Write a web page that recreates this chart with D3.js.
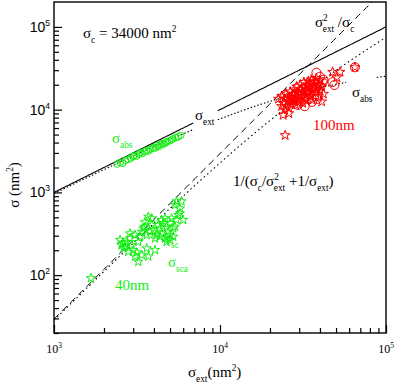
<!DOCTYPE html>
<html><head><meta charset="utf-8">
<script src="https://cdn.jsdelivr.net/npm/d3@7"></script>
<style>body{margin:0;background:#fff}svg{display:block}</style>
</head><body>
<svg id="c" width="395" height="385"></svg>
<script>
const sigmaC = 34000;
const xDomain = [1e3, 1e5];
const yDomain = [20, 2e5];
const xMajor = [1e3, 1e4, 1e5];
const xMajorExp = ["3", "4", "5"];
const yMajor = [1e2, 1e3, 1e4, 1e5];
const yMajorExp = ["2", "3", "4", "5"];

// 40 nm: absorption (circles)
const extG40abs = [2400,2500,2600,2700,2800,2900,3000,3050,3150,3250,3300,3400,3500,3600,3700,3800,3900,4000,4100,4200,4300,4400,4500,4600,4700,4800,4950,5100,5200,5400,5600,5800];
const absG40 = [2200,2300,2250,2450,2500,2600,2700,2800,2750,2900,3000,2950,3100,3200,3150,3300,3400,3500,3450,3700,3600,3800,3900,3850,4000,4100,4200,4300,4450,4600,4700,4900];
// 40 nm: scattering (stars)
const extG40sca = [1670,2500,2550,2620,2740,2870,2940,3010,3080,3150,3220,3300,3380,3460,3530,3620,3700,3790,3880,3970,4060,4150,4250,4350,4450,4550,4660,4770,4880,5000,5110,5230,5350,5480,5610,5740,5480,5350,5870,5740,6000,5230,5000,4660,4350,4450,3220,3380,3700,4060,3620,3880,3530,3080,2870,2680,2800,2600,5000,4770];
const scaG40 = [92,266,231,211,252,278,231,201,168,188,252,292,335,368,385,306,508,335,403,351,278,306,403,368,464,427,486,385,335,427,486,368,385,464,533,640,780,705,780,560,464,292,266,278,292,320,145,175,168,201,211,486,436,306,320,221,192,248,306,252];
// 100 nm: scattering (stars)
const extR100sca = [23500,23500,24000,24500,24500,25000,25000,25500,26000,26000,26500,26500,27000,27000,27500,28000,28000,28500,28500,29000,29000,29500,30000,30000,30500,30500,31000,31500,31500,32000,32000,32500,33000,33000,33500,34000,34000,34500,35000,35000,35500,36000,36000,36500,37000,37500,38000,38000,39000,39000,40000,40000,41000,42000,41000,26000,24000,24700,47700,52900,50500,22500,65000];
const scaR100 = [11000,14500,12000,10000,13500,15500,11000,12500,14000,10500,16500,12500,13500,11500,15500,17500,13000,14500,11500,16000,19000,13500,15500,12500,17500,20000,14500,16500,12000,18500,21500,15000,17000,13000,19500,22000,16000,18000,14500,20500,23000,17500,13000,19500,21500,16000,24000,18500,20000,14500,22500,17000,19000,15500,12500,9000,8600,4900,28500,28500,24500,13500,32500];
// 100 nm: absorption (circles)
const extR100abs = [27500,29500,32400,35800,38500,24700,26000,28000,30000,31000,32000,33000,34000,35000,36000,37000,38000,39000,40000,38100,40000,41500,47600,48900,42000,36500,29000,31000,34000,37000,65000];
const absR100 = [12400,11400,11000,12400,13500,15000,14000,15000,15500,16500,14500,16500,17500,16000,18000,17000,19000,21000,19500,28000,25000,21500,21500,19850,23000,22000,13000,12500,13500,14500,32500];

// theoretical curve segments (sigma_ext ranges drawn)
const absSegments = [[1e3, 6840], [9700, 57500], [88000, 1e5]];
const extSegments = [[1e3, 6900], [9700, 1e5]];

const svg = d3.select("#c");
const L = 54, R = 386, T = 2, B = 333;
const x = d3.scaleLog().domain(xDomain).range([L, R]);
const y = d3.scaleLog().domain(yDomain).range([B, T]);
const green = "#11ee11", red = "#ff0000";
const serif = "'Liberation Serif', 'DejaVu Serif', serif";
const sans = "'Liberation Sans', Arial, sans-serif";

svg.append("clipPath").attr("id","clip").append("rect").attr("x",L).attr("y",T).attr("width",R-L).attr("height",B-T);
const plot = svg.append("g").attr("clip-path","url(#clip)");

function samples(a, b, n=120){ const la=Math.log10(a), lb=Math.log10(b); return d3.range(n+1).map(i=>Math.pow(10, la+(lb-la)*i/n)); }
const fExt = s => s;
const fAbs = s => s*sigmaC/(sigmaC+s);
const fSca = s => s*s/(sigmaC+s);
const fRay = s => s*s/sigmaC;
const line = f => d3.line().x(d=>x(d)).y(d=>y(f(d)));

extSegments.forEach(([a,b]) => plot.append("path").attr("d", line(fExt)(samples(a,b))).attr("fill","none").attr("stroke","#000").attr("stroke-width",1.1));
absSegments.forEach(([a,b]) => plot.append("path").attr("d", line(fAbs)(samples(a,b))).attr("fill","none").attr("stroke","#000").attr("stroke-width",1.1).attr("stroke-dasharray","1.5,2"));
plot.append("path").attr("d", line(fRay)(samples(1e3,1e5))).attr("fill","none").attr("stroke","#000").attr("stroke-width",1).attr("stroke-dasharray","7,4.5");
plot.append("path").attr("d", line(fSca)(samples(1e3,1e5))).attr("fill","none").attr("stroke","#000").attr("stroke-width",1.1).attr("stroke-dasharray","1.5,3");

const star = d3.symbol().type(d3.symbolStar).size(26)();
const starBig = d3.symbol().type(d3.symbolStar).size(30)();
function stars(xs, ys, color, path){
  plot.append("g").selectAll("path").data(xs.map((v,i)=>[v, ys[i]])).join("path")
    .attr("d", path).attr("transform", d=>`translate(${x(d[0])},${y(d[1])})`)
    .attr("fill","none").attr("stroke",color).attr("stroke-width",1);
}
function circles(xs, ys, color, r){
  plot.append("g").selectAll("circle").data(xs.map((v,i)=>[v, ys[i]])).join("circle")
    .attr("cx", d=>x(d[0])).attr("cy", d=>y(d[1])).attr("r", r)
    .attr("fill","none").attr("stroke",color).attr("stroke-width",1);
}
circles(extG40abs, absG40, green, 3.3);
stars(extG40sca, scaG40, green, star);
circles(extR100abs, absR100, red, 4.5);
stars(extR100sca, scaR100, red, starBig);

// frame
svg.append("rect").attr("x",L).attr("y",T).attr("width",R-L).attr("height",B-T).attr("fill","none").attr("stroke","#000").attr("stroke-width",1.4);

// axes
const yMinor = [];
[10,100,1000,10000].forEach(d=>{ for(let k=2;k<=9;k++){ const v=d*k; if(v>=yDomain[0] && v<yDomain[1]) yMinor.push(v);} });
const xMinor = [];
[1000,10000].forEach(d=>{ for(let k=2;k<=9;k++) xMinor.push(d*k); });

const yAx = svg.append("g").attr("transform",`translate(${L},0)`);
yAx.call(d3.axisLeft(y).tickValues(yMajor).tickSize(-8).tickFormat(""));
yAx.append("g").call(d3.axisLeft(y).tickValues(yMinor).tickSize(-5).tickFormat(""));
yAx.selectAll(".domain").remove();
yAx.selectAll("line").attr("stroke","#000").attr("stroke-width",1.2);

const xAx = svg.append("g").attr("transform",`translate(0,${B})`);
xAx.call(d3.axisBottom(x).tickValues(xMajor).tickSize(-8).tickFormat(""));
xAx.append("g").call(d3.axisBottom(x).tickValues(xMinor).tickSize(-5).tickFormat(""));
xAx.selectAll(".domain").remove();
xAx.selectAll("line").attr("stroke","#000").attr("stroke-width",1.2);

yMajor.forEach((v,i)=>{
  const t = svg.append("text").attr("x", L-4).attr("y", y(v)+5).attr("text-anchor","end")
    .attr("font-family", sans).attr("font-size",14).attr("fill","#000");
  t.append("tspan").text("10");
  t.append("tspan").attr("dy",-6).attr("font-size",8.5).text(yMajorExp[i]);
});
xMajor.forEach((v,i)=>{
  const t = svg.append("text").attr("x", x(v)).attr("y", B+20).attr("text-anchor","middle")
    .attr("font-family", serif).attr("font-size",12).attr("fill","#000");
  t.append("tspan").text("10");
  t.append("tspan").attr("dy",-5).attr("font-size",7.5).text(xMajorExp[i]);
});

// rich text helper
function rich(px, py, parts, size, color, extra){
  const t = svg.append("text").attr("x",px).attr("y",py).attr("font-family",serif).attr("font-size",size).attr("fill",color);
  if (extra) extra(t);
  let cur = 0;
  parts.forEach(p=>{
    const [s,k,dx] = p;
    const off = k==="sub" ? size*0.35 : k==="sup" ? -size*0.42 : 0;
    const ts = t.append("tspan").attr("dy", off-cur).attr("font-size", k==="n" ? size : size*0.62).text(s);
    if (dx) ts.attr("dx", dx);
    cur = off;
  });
  return t;
}
rich(83, 38, [["σ","n"],["c","sub"],[" = 34000 nm","n"],["2","sup"]], 15, "#000");
rich(195, 120, [["σ","n"],["ext","sub"]], 15, "#000");
rich(315, 27, [["σ","n"],["2","sup"],["ext","sub",-5],[" /σ","n"],["c","sub"]], 15, "#000");
rich(233, 186, [["1/(σ","n"],["c","sub"],["/σ","n"],["2","sup"],["ext","sub",-5],[" +1/σ","n"],["ext","sub"],[")","n"]], 15, "#000");
rich(352, 97, [["σ","n"],["abs","sub"]], 15, "#000");
rich(313, 130, [["100nm","n"]], 15, red);
rich(112, 143, [["σ","n"],["abs","sub"]], 15, green);
rich(115, 290, [["40nm","n"]], 15, green);
rich(163, 243, [["σ","n"],["sc","sub"]], 15, green);
rich(168, 267, [["σ","n"],["sca","sub"]], 15, green);
rich(188, 377, [["σ","n"],["ext","sub"],["(nm","n"],["2","sup"],[")","n"]], 15, "#000");
rich(0, 0, [["σ (nm","n"],["2","sup"],[")","n"]], 15, "#000", t=>t.attr("transform","translate(19,185) rotate(-90)").attr("text-anchor","middle"));
</script>
</body></html>
